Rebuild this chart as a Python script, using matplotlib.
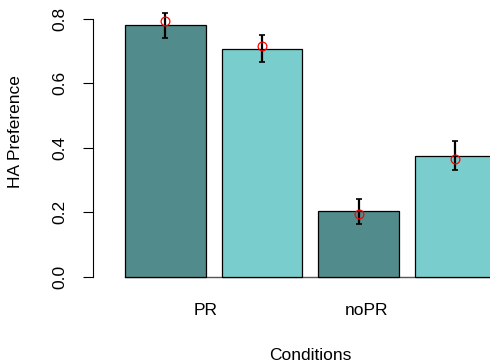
import matplotlib
matplotlib.use("Agg")
import matplotlib.pyplot as plt

plt.rcParams['font.family'] = ['Liberation Sans', 'DejaVu Sans']

groups = ["PR", "noPR"]
bar_values = [0.780, 0.706, 0.204, 0.375]
point_values = [0.792, 0.716, 0.193, 0.366]
err_low = [0.741, 0.665, 0.164, 0.330]
err_high = [0.819, 0.750, 0.240, 0.421]
bar_colors = ["#528B8B", "#79CDCD", "#528B8B", "#79CDCD"]
yticks = [0.0, 0.2, 0.4, 0.6, 0.8]

W, H = 490, 363
fig = plt.figure(figsize=(W / 100, H / 100), dpi=100)

unit = 80.56
x_left_px = 92.7
bar0_left_px = 125.0
u_left = 0.2 - (bar0_left_px - x_left_px) / unit
u_right = 0.2 + (W - bar0_left_px) / unit
y0_px, y1_px = 276.7, 18.7
ax = fig.add_axes([x_left_px / W, (H - y0_px) / H, (W - x_left_px) / W, (y0_px - y1_px) / H])
ax.set_xlim(u_left, u_right)
ax.set_ylim(0, 0.8)

centers = [0.7 + 1.2 * i for i in range(len(bar_values))]
ax.bar(centers, bar_values, width=1.0, color=bar_colors, edgecolor="black",
       linewidth=0.9, clip_on=False, zorder=2)
ax.plot([0.2, u_right + 1], [0, 0], color="#555555", lw=1.0, clip_on=False, zorder=1)

for c, p, lo, hi in zip(centers, point_values, err_low, err_high):
    ax.errorbar([c], [p], yerr=[[p - lo], [hi - p]], fmt="none", ecolor="black",
                elinewidth=1.6, capsize=2.2, capthick=1.2, clip_on=False, zorder=3)
ax.plot(centers, point_values, "o", mfc="none", mec="red", ms=6.3, mew=0.9,
        clip_on=False, zorder=4)

for s in ["top", "right", "bottom"]:
    ax.spines[s].set_visible(False)
ax.spines["left"].set_bounds(0, 0.8)
ax.spines["left"].set_linewidth(0.8)

ax.set_yticks(yticks)
ax.set_yticklabels([f"{v:.1f}" for v in yticks], rotation=90, va="center", fontsize=12.5)
ax.tick_params(axis="y", length=7.5, width=0.8, pad=10.5)

ax.set_xticks([1.2, 3.2])
ax.set_xticklabels(groups, fontsize=12.5)
ax.tick_params(axis="x", length=0, pad=19)

fig.text(15 / W, 1 - 132 / H, "HA Preference", rotation=90, ha="center", va="center", fontsize=12.5)
fig.text(310 / W, 1 - 355 / H, "Conditions", ha="center", va="center", fontsize=12.5)

fig.savefig("out.png", dpi=100)
